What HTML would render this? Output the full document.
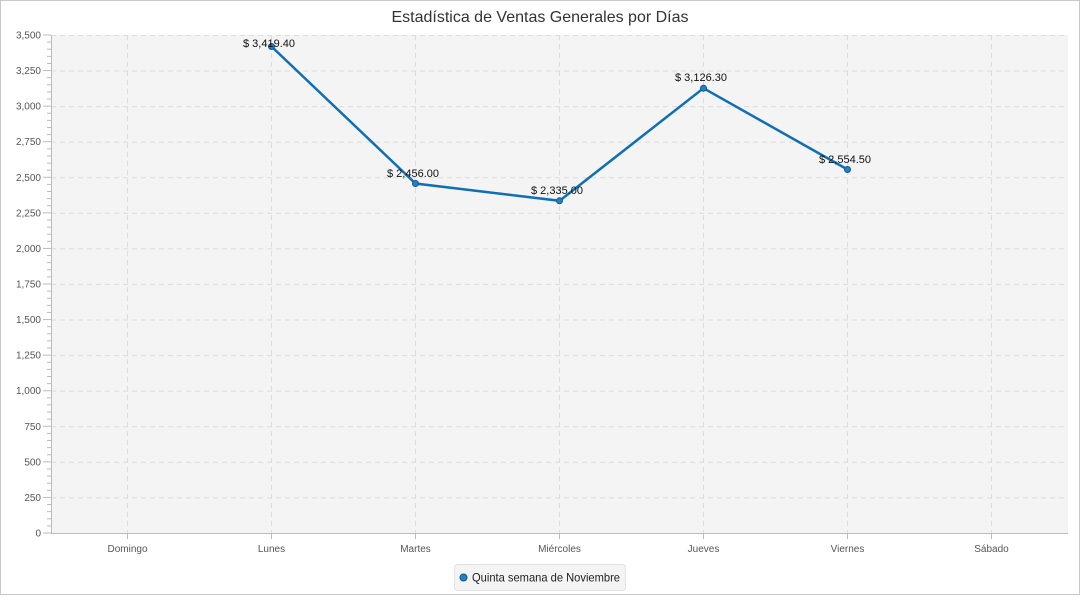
<!DOCTYPE html>
<html><head><meta charset="utf-8"><style>
html,body{margin:0;padding:0;background:#fff}
body{width:1080px;height:595px;overflow:hidden;font-family:"Liberation Sans",sans-serif}
</style></head><body>
<svg width="1080" height="595" xmlns="http://www.w3.org/2000/svg" font-family="Liberation Sans, sans-serif">
<rect x="0.5" y="0.5" width="1079" height="594" fill="#fff" stroke="#c8c8c8"/>
<text x="540" y="22" text-anchor="middle" font-size="16" fill="#333">Estadística de Ventas Generales por Días</text>
<rect x="51" y="35" width="1017" height="498" fill="#f4f4f4"/>
<g stroke="#dcdcdc" stroke-dasharray="5,4" stroke-width="1">
<line x1="51" x2="1068" y1="35.5" y2="35.5"/><line x1="51" x2="1068" y1="71" y2="71"/><line x1="51" x2="1068" y1="106.6" y2="106.6"/><line x1="51" x2="1068" y1="142.1" y2="142.1"/><line x1="51" x2="1068" y1="177.7" y2="177.7"/><line x1="51" x2="1068" y1="213.3" y2="213.3"/><line x1="51" x2="1068" y1="248.9" y2="248.9"/><line x1="51" x2="1068" y1="284.4" y2="284.4"/><line x1="51" x2="1068" y1="320" y2="320"/><line x1="51" x2="1068" y1="355.6" y2="355.6"/><line x1="51" x2="1068" y1="391.1" y2="391.1"/><line x1="51" x2="1068" y1="426.7" y2="426.7"/><line x1="51" x2="1068" y1="462.3" y2="462.3"/><line x1="51" x2="1068" y1="497.9" y2="497.9"/>
<line y1="35" y2="533" x1="127.5" x2="127.5"/><line y1="35" y2="533" x1="271.5" x2="271.5"/><line y1="35" y2="533" x1="415.5" x2="415.5"/><line y1="35" y2="533" x1="559.5" x2="559.5"/><line y1="35" y2="533" x1="703.5" x2="703.5"/><line y1="35" y2="533" x1="847.5" x2="847.5"/><line y1="35" y2="533" x1="991.5" x2="991.5"/>
</g>
<g stroke="#bbb" stroke-width="1">
<line x1="51.5" x2="51.5" y1="35" y2="533"/><line x1="51" x2="1068" y1="533.5" y2="533.5"/>
</g>
<g id="yt" font-size="10" fill="#555" text-anchor="end"></g>
<g id="xt" font-size="10" fill="#555" text-anchor="middle">
<text x="127.5" y="552">Domingo</text><text x="271.5" y="552">Lunes</text><text x="415.5" y="552">Martes</text><text x="559.5" y="552">Miércoles</text><text x="703.5" y="552">Jueves</text><text x="847.5" y="552">Viernes</text><text x="991.5" y="552">Sábado</text>
</g>
<g stroke="#bbb"><line x1="127.5" x2="127.5" y1="533" y2="539"/><line x1="271.5" x2="271.5" y1="533" y2="539"/><line x1="415.5" x2="415.5" y1="533" y2="539"/><line x1="559.5" x2="559.5" y1="533" y2="539"/><line x1="703.5" x2="703.5" y1="533" y2="539"/><line x1="847.5" x2="847.5" y1="533" y2="539"/><line x1="991.5" x2="991.5" y1="533" y2="539"/></g>
<g id="ticks" stroke="#bbb"></g>
<polyline points="271.5,46.5 415.5,183.5 559.5,200.8 703.5,88.2 847.5,169.5" fill="none" stroke="#0f6eb4" stroke-width="2.5"/>
<g fill="#2a7fc0" stroke="#0f5a90" stroke-width="1">
<circle cx="271.5" cy="46.5" r="3"/><circle cx="415.5" cy="183.5" r="3"/><circle cx="559.5" cy="200.8" r="3"/><circle cx="703.5" cy="88.2" r="3"/><circle cx="847.5" cy="169.5" r="3"/>
</g>
<g font-size="11" fill="#111" text-anchor="middle">
<text x="269" y="47">$ 3,419.40</text><text x="413" y="177">$ 2,456.00</text><text x="557" y="194">$ 2,335.00</text><text x="701" y="81">$ 3,126.30</text><text x="845" y="163">$ 2,554.50</text>
</g>
<rect x="454.5" y="564.5" width="171" height="26" rx="3" fill="#f4f4f4" stroke="#e2e2e2"/>
<circle cx="463.5" cy="577.5" r="3.5" fill="#2a7fc0" stroke="#0f5a90"/>
<text x="472" y="581.5" font-size="12" fill="#222" textLength="148" lengthAdjust="spacingAndGlyphs">Quinta semana de Noviembre</text>
</svg>
<script>
var yt=document.getElementById('yt'),tk=document.getElementById('ticks'),ns='http://www.w3.org/2000/svg';
for(var v=0;v<=3500;v+=50){var y=533-v*498/3500;var l=document.createElementNS(ns,'line');var maj=v%250==0;
l.setAttribute('x1',maj?43:47);l.setAttribute('x2',51);l.setAttribute('y1',y);l.setAttribute('y2',y);tk.appendChild(l);
if(maj){var t=document.createElementNS(ns,'text');t.setAttribute('x',41);t.setAttribute('y',y+3.5);t.textContent=v.toLocaleString('en-US');yt.appendChild(t);}}
</script>
</body></html>
